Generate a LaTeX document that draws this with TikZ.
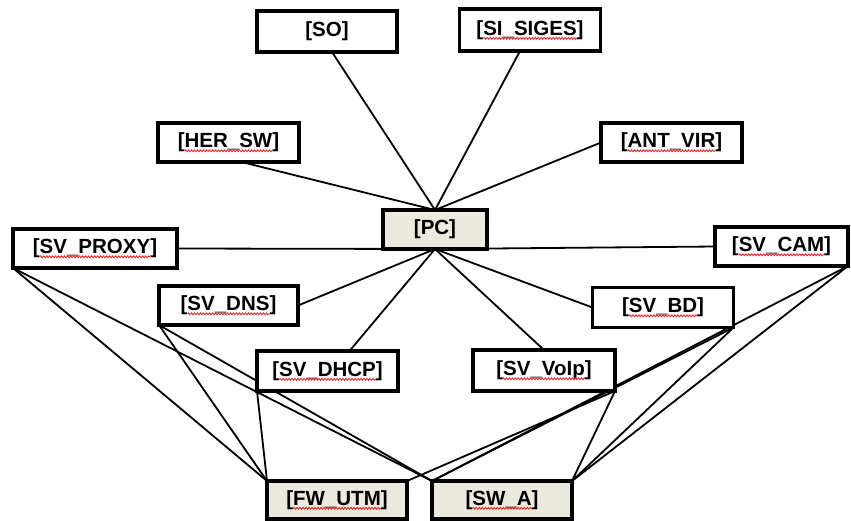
\documentclass[tikz,border=0pt]{standalone}
\usepackage{fontspec}
\setmainfont{Liberation Sans}
\usetikzlibrary{calc,decorations.pathmorphing}
\definecolor{boxfill}{RGB}{236,233,222}
\definecolor{spellred}{RGB}{235,40,40}
\newcommand\boxfont{\fontsize{20.5}{23}\selectfont\bfseries}
\pgfdeclarelayer{bg}
\pgfsetlayers{bg,main}
\begin{document}
\begin{tikzpicture}[x=1pt,y=-1pt,
  box/.style={draw=black, line width=3.2pt, fill=white, line join=miter,
    minimum width=#1, minimum height=40pt, inner sep=0pt, outer sep=0pt,
    font=\boxfont},
  box/.default=140,
  hub/.style={box=#1, fill=boxfill},
  hub/.default=140,
  link/.style={draw=black, line width=1.8pt, line cap=round},
  spellwave/.style={draw=spellred, line width=0.9pt,
    decorate, decoration={snake, segment length=3pt, amplitude=0.9pt}}
]
\useasboundingbox (0,0) rectangle (851,520);

% upper services
\node[box=140, minimum height=41] (so)  at (327,31.5)    {[SO]};
\node[box=141, minimum height=42] (si)  at (530,30)      {[SI\_SIGES]};
\node[box=141, minimum height=39] (her) at (228.5,142.5) {[HER\_SW]};
\node[box=141, minimum height=39] (ant) at (671.5,142.5) {[ANT\_VIR]};

% central host
\node[hub=104, minimum height=39] (pc) at (435,229.5) {[PC]};

% servers
\node[box=164, minimum height=39] (proxy) at (95,248.5)    {[SV\_PROXY]};
\node[box=133, minimum height=39] (cam)   at (781.5,246.5) {[SV\_CAM]};
\node[box=139, minimum height=39] (dns)   at (228.5,305.5) {[SV\_DNS]};
\node[box=141, minimum height=40] (bd)    at (663,307.5)   {[SV\_BD]};
\node[box=141, minimum height=40] (dhcp)  at (327.5,371)   {[SV\_DHCP]};
\node[box=142, minimum height=41] (voip)  at (544,370.5)   {[SV\_VoIp]};

% perimeter devices
\node[hub=140, minimum height=38] (fw) at (337,500) {[FW\_UTM]};
\node[hub=140, minimum height=38] (sw) at (502,500) {[SW\_A]};

% spelling marks under the names (node / width of the word)
\foreach \n/\w in {si/93.4, her/87.7, ant/87.7, proxy/110.5, cam/85.4,
                   dns/82, bd/68.3, dhcp/96.8, voip/83.2, fw/87.7, sw/59.2}
  \draw[spellwave] ($(\n.base)+(-0.5*\w,3)$) -- ($(\n.base)+(0.5*\w,3)$);

\begin{pgfonlayer}{bg}
  % links into the host
  \draw[link] ($(so.south)+(5,0)$) -- (pc.north);
  \draw[link] ($(si.south)+(-10,0)$) -- (pc.north);
  \draw[link] ($(her.south)+(13,0)$) -- (pc.north);
  \draw[link] (ant.west) -- (pc.north);
  % links out of the host
  \draw[link] (proxy.east) -- (pc.south);
  \draw[link] (pc.south) -- (cam.west);
  \draw[link] (pc.south) -- (dns.east);
  \draw[link] (pc.south) -- ($(dhcp.north)+(22,0)$);
  \draw[link] (pc.south) -- (voip.north);
  \draw[link] (pc.south) -- (bd.west);
  % left servers to the perimeter
  \draw[link] (proxy.south west) -- (fw.north west);
  \draw[link] (proxy.south west) -- (sw.north west);
  \draw[link] (dns.south west) -- (fw.north west);
  \draw[link] (dns.south west) -- (sw.north west);
  \draw[link] (dhcp.south west) -- (fw.north west);
  % right servers to the perimeter
  \draw[link] (cam.south east) -- (sw.north east);
  \draw[link] (bd.south east) -- (sw.north east);
  \draw[link] (voip.south east) -- (sw.north east);
  \draw[link] (cam.south east) -- (sw.north west);
  \draw[link] (bd.south east) -- (sw.north west);
  \draw[link] (voip.south east) -- (fw.north east);
\end{pgfonlayer}
\end{tikzpicture}
\end{document}
